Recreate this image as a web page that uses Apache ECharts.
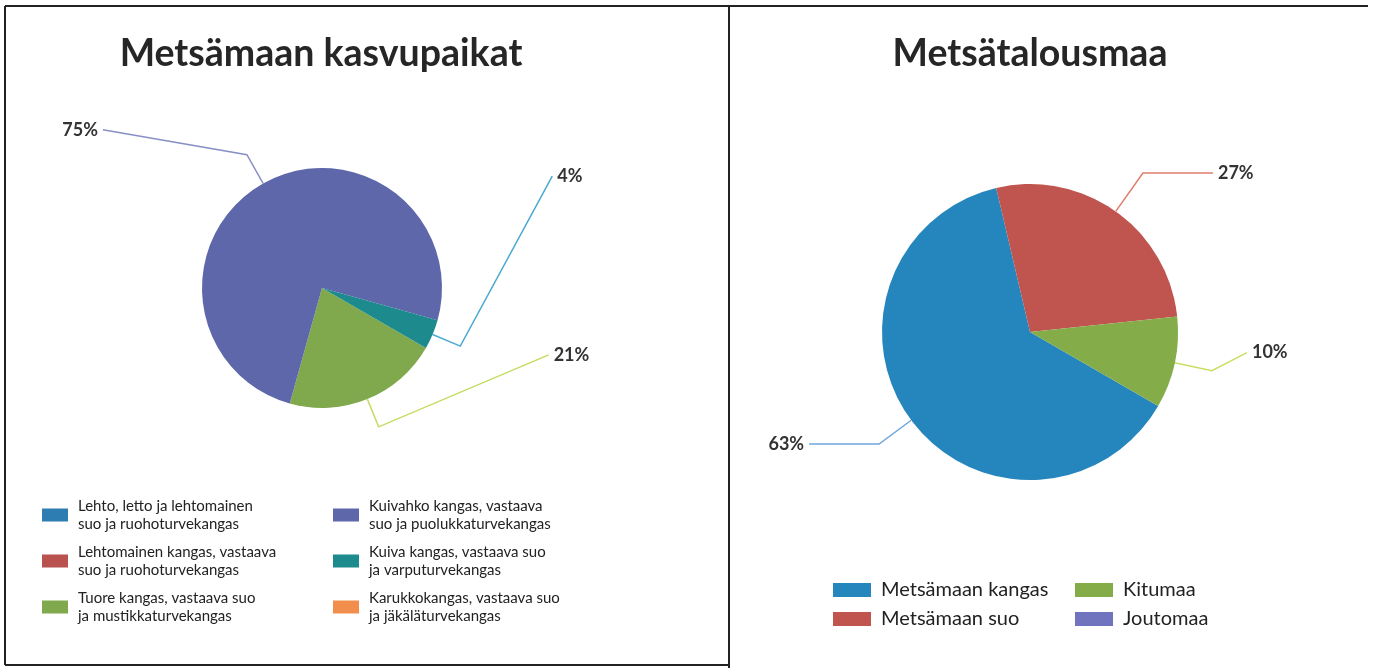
<!DOCTYPE html>
<html>
<head>
<meta charset="utf-8">
<script src="https://cdn.jsdelivr.net/npm/echarts@6/dist/echarts.min.js"></script>
<style>
html, body { margin: 0; padding: 0; background: #fff; }
#main { width: 1373px; height: 668px; }
</style>
</head>
<body>
<div id="main"></div>
<script>
// vasen kuvio: metsämaan kasvupaikat
const kasvupaikatNames = [
  "Lehto, letto ja lehtomainen\nsuo ja ruohoturvekangas",
  "Lehtomainen kangas, vastaava\nsuo ja ruohoturvekangas",
  "Tuore kangas, vastaava suo\nja mustikkaturvekangas",
  "Kuivahko kangas, vastaava\nsuo ja puolukkaturvekangas",
  "Kuiva kangas, vastaava suo\nja varputurvekangas",
  "Karukkokangas, vastaava suo\nja jäkäläturvekangas"
];
const kasvupaikatValues = [0, 0, 21, 75, 4, 0];

// oikea kuvio: metsätalousmaa
const talousmaaNames = ["Metsämaan kangas", "Metsämaan suo", "Kitumaa", "Joutomaa"];
const talousmaaValues = [63, 27, 10, 0];

const kasvupaikatColors = ["#2d7db3", "#b9514f", "#80a84c", "#5d67aa", "#1d8a8e", "#f28e4c"];
const kasvupaikatLineColors = ["#2d7db3", "#b9514f", "#c3dd62", "#8a90c6", "#4aaad2", "#f28e4c"];
const talousmaaColors = ["#2585bd", "#c0544f", "#84ad4a", "#7074be"];
const talousmaaLineColors = ["#6fa6de", "#e07c6c", "#c8e060", "#7074be"];

// leader line lengths per slice
const kasvupaikatLen = [10, 10, 30, 33, 30, 10];
const kasvupaikatLen2 = [10, 10, 170, 144, 92, 10];
const talousmaaLen = [40, 47, 38, 10];
const talousmaaLen2 = [70, 70, 35, 10];
// labels were dragged upwards in the original
const kasvupaikatLabelDy = [0, 0, -72, -25, -170, 0];
const talousmaaLabelDy = [0, 0, -18, 0];

function buildData(names, values, colors, lineColors, len, len2) {
  return names.map((name, i) => ({
    name: name,
    value: values[i],
    itemStyle: { color: colors[i] },
    label: { show: values[i] > 0 },
    labelLine: {
      show: values[i] > 0,
      length: len[i],
      length2: len2[i],
      lineStyle: { color: lineColors[i], width: 1.5 }
    }
  }));
}

// shift a label and bend the last part of its leader line after it
function shiftLabel(dyList) {
  return function (params) {
    const d = dyList[params.dataIndex] || 0;
    const pts = params.labelLinePoints;
    if (!pts || !d) return {};
    return {
      dy: d,
      labelLinePoints: [pts[0], pts[1], [pts[2][0], pts[2][1] + d]]
    };
  };
}

const myChart = echarts.init(document.getElementById("main"));

const labelStyle = {
  formatter: "{d}%",
  fontFamily: "Lato",
  fontSize: 18,
  fontWeight: "bold",
  color: "#333"
};

const leftLegendText = { fontFamily: "Lato", fontSize: 15, lineHeight: 18, color: "#222", padding: [0, 0, 0, 5] };
const rightLegendText = { fontFamily: "Lato", fontSize: 20, lineHeight: 20, color: "#222", padding: [0, 0, 0, 5] };
const titleText = { fontFamily: "Lato", fontSize: 37.5, fontWeight: "bold", color: "#262626" };

const option = {
  backgroundColor: "#fff",
  animation: false,
  title: [
    { text: "Metsämaan kasvupaikat", left: 321, top: 35, padding: 0, textAlign: "center", textStyle: titleText },
    { text: "Metsätalousmaa", left: 1030, top: 35, padding: 0, textAlign: "center", textStyle: titleText }
  ],
  legend: [
    {
      data: kasvupaikatNames.slice(0, 3),
      orient: "vertical", left: 42, top: 497, padding: 0,
      itemWidth: 26, itemHeight: 13, itemGap: 10, icon: "rect",
      selectedMode: false, textStyle: leftLegendText
    },
    {
      data: kasvupaikatNames.slice(3),
      orient: "vertical", left: 333, top: 497, padding: 0,
      itemWidth: 26, itemHeight: 13, itemGap: 10, icon: "rect",
      selectedMode: false, textStyle: leftLegendText
    },
    {
      data: talousmaaNames.slice(0, 2),
      orient: "vertical", left: 833, top: 580, padding: 0,
      itemWidth: 38, itemHeight: 14, itemGap: 9, icon: "rect",
      selectedMode: false, textStyle: rightLegendText
    },
    {
      data: talousmaaNames.slice(2),
      orient: "vertical", left: 1075, top: 580, padding: 0,
      itemWidth: 38, itemHeight: 14, itemGap: 9, icon: "rect",
      selectedMode: false, textStyle: rightLegendText
    }
  ],
  graphic: [
    { type: "line", shape: { x1: 5, y1: 6, x2: 1368, y2: 6 }, style: { stroke: "#222", lineWidth: 2 } },
    { type: "line", shape: { x1: 5, y1: 6, x2: 5, y2: 665 }, style: { stroke: "#222", lineWidth: 2 } },
    { type: "line", shape: { x1: 5, y1: 665, x2: 729, y2: 665 }, style: { stroke: "#222", lineWidth: 2 } },
    { type: "line", shape: { x1: 729, y1: 6, x2: 729, y2: 668 }, style: { stroke: "#222", lineWidth: 2 } }
  ],
  series: [
    {
      name: "Metsämaan kasvupaikat",
      type: "pie",
      center: [322, 288],
      radius: 120,
      startAngle: -30,
      clockwise: true,
      avoidLabelOverlap: false,
      itemStyle: { borderWidth: 0 },
      label: labelStyle,
      labelLayout: shiftLabel(kasvupaikatLabelDy),
      emphasis: { disabled: true },
      data: buildData(kasvupaikatNames, kasvupaikatValues, kasvupaikatColors,
        kasvupaikatLineColors, kasvupaikatLen, kasvupaikatLen2)
    },
    {
      name: "Metsätalousmaa",
      type: "pie",
      center: [1030, 332],
      radius: 148,
      startAngle: -30,
      clockwise: true,
      avoidLabelOverlap: false,
      itemStyle: { borderWidth: 0 },
      label: labelStyle,
      labelLayout: shiftLabel(talousmaaLabelDy),
      emphasis: { disabled: true },
      data: buildData(talousmaaNames, talousmaaValues, talousmaaColors,
        talousmaaLineColors, talousmaaLen, talousmaaLen2)
    }
  ]
};

myChart.setOption(option);
</script>
</body>
</html>
